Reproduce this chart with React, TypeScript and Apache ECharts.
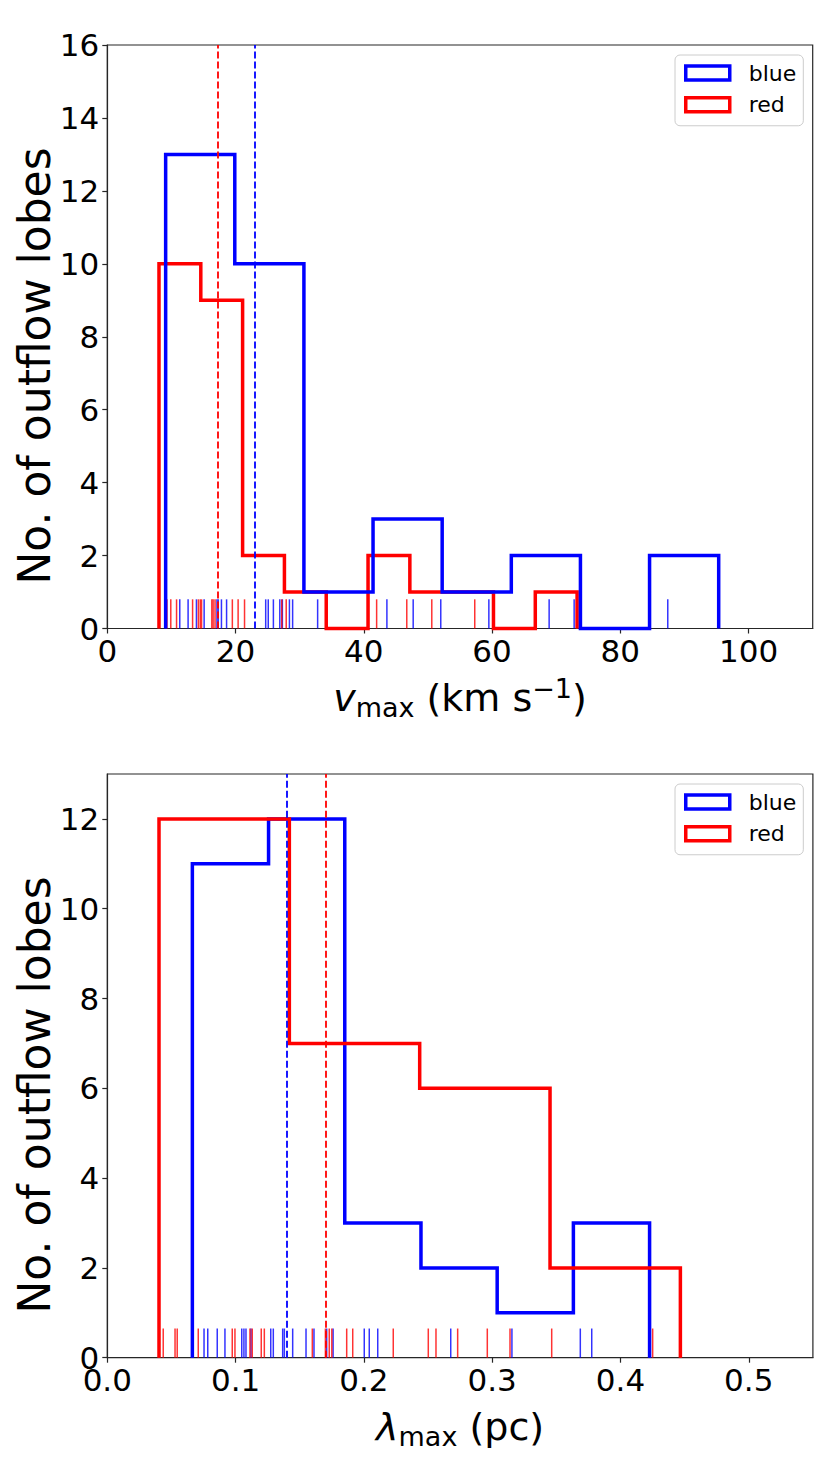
import React, { useEffect, useRef } from 'react';
import * as echarts from 'echarts';

// ---------- data ----------
// top panel: v_max (km s^-1)
const vBlueEdges = [9.1, 19.88, 30.66, 41.44, 52.22, 63.0, 73.78, 84.56, 95.34];
const vBlueCounts = [13, 10, 1, 3, 1, 2, 0, 2];
const vRedEdges = [8.06, 14.58, 21.1, 27.62, 34.14, 40.66, 47.18, 53.7, 60.22, 66.74, 73.26];
const vRedCounts = [10, 9, 2, 1, 0, 2, 1, 1, 0, 1];
const vBlueMedian = 23.07;
const vRedMedian = 17.3;
const vBlueRug = [9.1, 11.3, 12.6, 13.9, 15.1, 17.1, 17.3, 17.8, 18.6, 24.7, 25.1, 25.9, 26.9, 27.3, 28.4, 28.9, 32.8, 43.6, 47.7, 52.0, 59.5, 68.9, 72.8, 87.4];
const vRedRug = [8.06, 9.3, 9.9, 10.8, 13.3, 14.2, 14.5, 14.7, 16.3, 16.5, 16.8, 19.5, 20.4, 21.4, 27.2, 27.9, 42.0, 46.7, 50.6, 57.3, 73.26];
const vTicksX = [0, 20, 40, 60, 80, 100];
const vTicksY = [0, 2, 4, 6, 8, 10, 12, 14, 16];

// bottom panel: lambda_max (pc)
const lBlueEdges = [0.0663, 0.1257, 0.1851, 0.2445, 0.3039, 0.3633, 0.4227];
const lBlueCounts = [11, 12, 3, 2, 1, 3];
const lRedEdges = [0.0403, 0.1419, 0.2435, 0.3451, 0.4467];
const lRedCounts = [12, 7, 6, 2];
const lBlueMedian = 0.1445;
const lRedMedian = 0.172;
const lBlueRug = [0.0663, 0.0754, 0.0783, 0.0857, 0.0917, 0.1048, 0.1065, 0.1081, 0.112, 0.1274, 0.1294, 0.1367, 0.138, 0.1445, 0.1549, 0.1611, 0.171, 0.176, 0.2003, 0.2042, 0.2108, 0.2677, 0.3154, 0.3687, 0.3776, 0.4227];
const lRedRug = [0.0403, 0.0436, 0.0528, 0.0545, 0.0709, 0.0974, 0.0995, 0.1112, 0.113, 0.12, 0.1224, 0.1598, 0.17, 0.173, 0.175, 0.1866, 0.1913, 0.2229, 0.2502, 0.2562, 0.2731, 0.2962, 0.3139, 0.3464, 0.4251, 0.4467];
const lTicksX = [0, 0.1, 0.2, 0.3, 0.4, 0.5];
const lTicksY = [0, 2, 4, 6, 8, 10, 12];

const legendNames = ['blue', 'red'];

// ---------- style / layout ----------
const FONT = "'DejaVu Sans', 'Liberation Sans', sans-serif";
const BLUE = '#0000ff';
const RED = '#ff0000';
const AXIS = '#262626';
const G1 = { left: 107.3, top: 45, width: 705.4, height: 583.5 };
const G2 = { left: 107.3, top: 774, width: 705.6, height: 583.7 };

function stepOutline(edges: number[], counts: number[]) {
  const pts: number[][] = [[edges[0], 0]];
  counts.forEach((c, i) => {
    pts.push([edges[i], c]);
    pts.push([edges[i + 1], c]);
  });
  pts.push([edges[edges.length - 1], 0]);
  return pts;
}

function rugSeries(name: string, values: number[], h: number, color: string, idx: number) {
  return {
    type: 'custom',
    name,
    xAxisIndex: idx,
    yAxisIndex: idx,
    z: 1,
    silent: true,
    data: values.map((v) => [v, h]),
    encode: { x: 0, y: 1 },
    renderItem: (params: any, api: any) => {
      const x = api.value(0);
      const p0 = api.coord([x, 0]);
      const p1 = api.coord([x, api.value(1)]);
      return {
        type: 'line',
        shape: { x1: p0[0], y1: p0[1], x2: p1[0], y2: p1[1] },
        style: { stroke: color, lineWidth: 1.5, opacity: 0.8 },
      };
    },
  };
}

function histSeries(name: string, edges: number[], counts: number[], median: number, color: string, idx: number, z: number) {
  return {
    type: 'line',
    name,
    xAxisIndex: idx,
    yAxisIndex: idx,
    z,
    silent: true,
    symbol: 'none',
    showSymbol: false,
    clip: false,
    data: stepOutline(edges, counts),
    lineStyle: { color, width: 3.5, join: 'miter', cap: 'butt' },
    itemStyle: { color },
    markLine: {
      silent: true,
      symbol: ['none', 'none'],
      label: { show: false },
      z: 10,
      lineStyle: { color, width: 1.8, type: [7, 3] },
      data: [{ xAxis: median }],
    },
  };
}

function xAxisOpt(idx: number, max: number, ticks: number[], fmt: (v: number) => string) {
  return {
    type: 'value',
    gridIndex: idx,
    min: 0,
    max,
    axisLine: { show: true, onZero: false, lineStyle: { color: AXIS, width: 1.2 } },
    axisTick: { show: true, length: 5, customValues: ticks, lineStyle: { color: AXIS, width: 1.2 } },
    axisLabel: { customValues: ticks, formatter: fmt, color: '#000', fontSize: 31, fontFamily: FONT, margin: 7 },
    splitLine: { show: false },
  };
}

function yAxisOpt(idx: number, max: number, ticks: number[]) {
  return {
    type: 'value',
    gridIndex: idx,
    min: 0,
    max,
    axisLine: { show: true, lineStyle: { color: AXIS, width: 1.2 } },
    axisTick: { show: true, length: 5, customValues: ticks, lineStyle: { color: AXIS, width: 1.2 } },
    axisLabel: { customValues: ticks, formatter: (v: number) => String(v), color: '#000', fontSize: 31, fontFamily: FONT, margin: 8 },
    splitLine: { show: false },
  };
}

function legendOpt(top: number) {
  return {
    orient: 'vertical',
    left: 675,
    top,
    selectedMode: false,
    icon: 'rect',
    itemWidth: 44,
    itemHeight: 14,
    itemGap: 9.75,
    padding: [7, 7, 10, 9],
    backgroundColor: '#ffffff',
    borderColor: '#cccccc',
    borderWidth: 1,
    borderRadius: 5,
    textStyle: { fontFamily: FONT, fontSize: 22, color: '#000', lineHeight: 22, padding: [0, 0, 0, 14] },
    data: legendNames.map((n) => ({
      name: n,
      icon: 'rect',
      itemStyle: { color: '#ffffff', borderColor: n === 'blue' ? BLUE : RED, borderWidth: 3.5 },
    })),
  };
}

const mainTok = { fontFamily: FONT, fontSize: 38, color: '#000', lineHeight: 46, verticalAlign: 'middle' };
const italTok = { ...mainTok, fontStyle: 'italic' };
const subTok = { fontFamily: FONT, fontSize: 27, color: '#000', lineHeight: 29, verticalAlign: 'bottom' };
const supTok = { fontFamily: FONT, fontSize: 27, color: '#000', lineHeight: 22, verticalAlign: 'top' };
const richTok = { n: mainTok, i: italTok, s: subTok, p: supTok };

function yTitle(cy: number) {
  return {
    type: 'text',
    x: 34,
    y: cy,
    rotation: Math.PI / 2,
    style: { text: 'No. of outflow lobes', fontFamily: FONT, fontSize: 44, fill: '#000', align: 'center', verticalAlign: 'middle' },
  };
}

export default function App() {
  const ref = useRef<HTMLDivElement>(null);
  useEffect(() => {
    document.body.style.margin = '0';
    const chart = echarts.init(ref.current!, null, { renderer: 'svg' });
    const option = {
      animation: false,
      backgroundColor: '#ffffff',
      textStyle: { fontFamily: FONT },
      grid: [
        { ...G1, show: true, borderColor: AXIS, borderWidth: 1.2, containLabel: false },
        { ...G2, show: true, borderColor: AXIS, borderWidth: 1.2, containLabel: false },
      ],
      xAxis: [
        xAxisOpt(0, 110, vTicksX, (v: number) => String(v)),
        xAxisOpt(1, 0.55, lTicksX, (v: number) => v.toFixed(1)),
      ],
      yAxis: [yAxisOpt(0, 16, vTicksY), yAxisOpt(1, 13, lTicksY)],
      legend: [legendOpt(55), legendOpt(784)],
      series: [
        rugSeries('blueRugV', vBlueRug, 0.8, BLUE, 0),
        rugSeries('redRugV', vRedRug, 0.8, RED, 0),
        histSeries('red', vRedEdges, vRedCounts, vRedMedian, RED, 0, 3),
        histSeries('blue', vBlueEdges, vBlueCounts, vBlueMedian, BLUE, 0, 4),
        rugSeries('blueRugL', lBlueRug, 0.65, BLUE, 1),
        rugSeries('redRugL', lRedRug, 0.65, RED, 1),
        histSeries('blue', lBlueEdges, lBlueCounts, lBlueMedian, BLUE, 1, 3),
        histSeries('red', lRedEdges, lRedCounts, lRedMedian, RED, 1, 4),
      ],
      graphic: [
        yTitle(366),
        yTitle(1095),
        {
          type: 'text',
          x: G1.left + G1.width / 2,
          y: 697.7,
          style: { text: '{i|v}{s|max}{n| (km s}{p|−1}{n|)}', rich: richTok, align: 'center', verticalAlign: 'middle' },
        },
        {
          type: 'text',
          x: G2.left + G2.width / 2,
          y: 1426.7,
          style: { text: '{i|λ}{s|max}{n| (pc)}', rich: richTok, align: 'center', verticalAlign: 'middle' },
        },
      ],
    };
    chart.setOption(option as any);
    return () => chart.dispose();
  }, []);
  return <div ref={ref} style={{ width: 830, height: 1476 }} />;
}
